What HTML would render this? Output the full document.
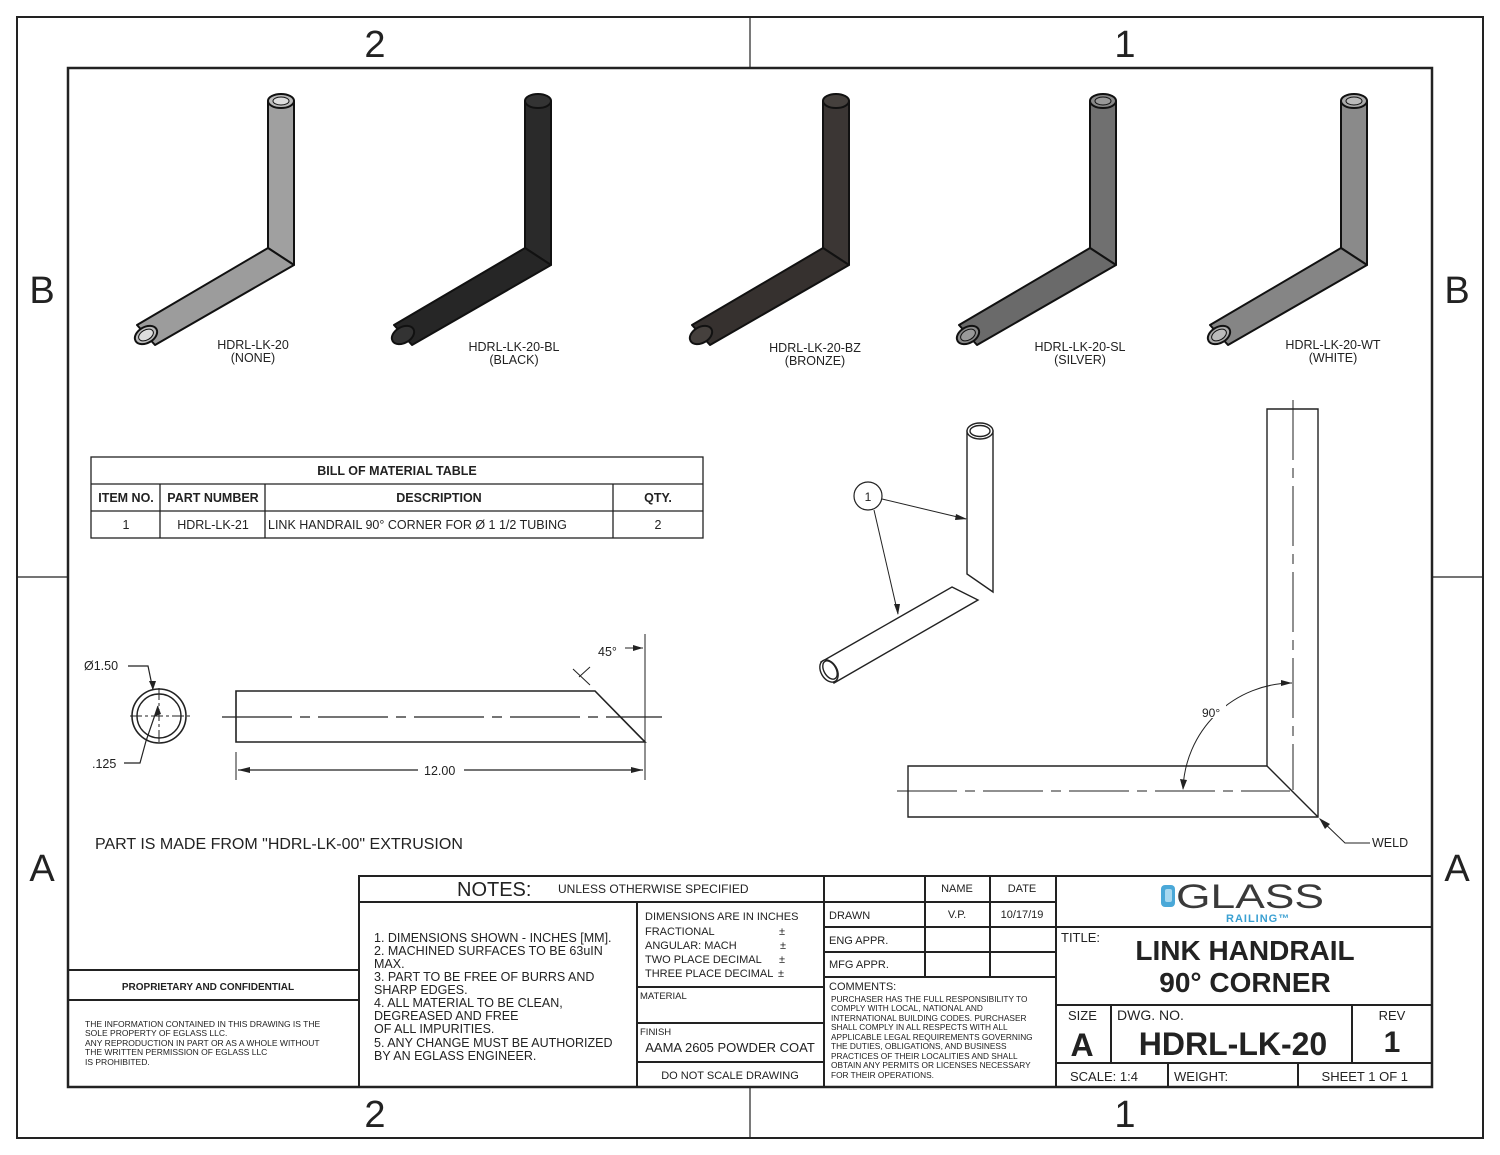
<!DOCTYPE html>
<html><head><meta charset="utf-8"><style>
html,body{margin:0;padding:0;background:#fff;}
svg{display:block;font-family:"Liberation Sans",sans-serif;}
</style></head><body>
<svg width="1500" height="1155" viewBox="0 0 1500 1155" xmlns="http://www.w3.org/2000/svg">
<rect x="0" y="0" width="1500" height="1155" fill="#fff"/>
<rect x="17" y="17" width="1466" height="1121" fill="none" stroke="#222" stroke-width="2"/>
<rect x="68" y="68" width="1364" height="1019" fill="none" stroke="#222" stroke-width="2.5"/>
<g stroke="#222" stroke-width="1.2">
<line x1="750" y1="17" x2="750" y2="68"/><line x1="750" y1="1087" x2="750" y2="1138"/>
<line x1="17" y1="577" x2="68" y2="577"/><line x1="1432" y1="577" x2="1483" y2="577"/>
</g>
<g font-size="38" fill="#222" text-anchor="middle" font-weight="300">
<text x="375" y="57">2</text><text x="1125" y="57">1</text>
<text x="375" y="1127">2</text><text x="1125" y="1127">1</text>
<text x="42" y="303">B</text><text x="1457" y="303">B</text>
<text x="42" y="881">A</text><text x="1457" y="881">A</text>
</g>

<g stroke="#111" stroke-width="2" stroke-linejoin="round">
<g fill="#a0a0a0">
<polygon points="268,101 294,101 294,265 268,248"/>
<polygon points="268,248 294,265 155,345 137,325" fill="#9c9c9c"/>
<ellipse cx="281" cy="101" rx="13" ry="7" fill="#bbb"/>
<ellipse cx="281" cy="101" rx="8" ry="4" fill="#ddd" stroke-width="1"/>
<ellipse cx="146" cy="335" rx="12" ry="8" transform="rotate(-30 146 335)" fill="#bbb"/>
<ellipse cx="146" cy="335" rx="8" ry="5" transform="rotate(-30 146 335)" fill="#ddd" stroke-width="1"/>
</g>
<g transform="translate(257,0)" fill="#2a2a2a">
<polygon points="268,101 294,101 294,265 268,248"/>
<polygon points="268,248 294,265 155,345 137,325" fill="#262626"/>
<ellipse cx="281" cy="101" rx="13" ry="7" fill="#333"/>
<ellipse cx="146" cy="335" rx="12" ry="8" transform="rotate(-30 146 335)" fill="#333"/>
</g>
<g transform="translate(555,0)" fill="#3b3634">
<polygon points="268,101 294,101 294,265 268,248"/>
<polygon points="268,248 294,265 155,345 137,325" fill="#36312f"/>
<ellipse cx="281" cy="101" rx="13" ry="7" fill="#45403d"/>
<ellipse cx="146" cy="335" rx="12" ry="8" transform="rotate(-30 146 335)" fill="#45403d"/>
</g>
<g transform="translate(822,0)" fill="#707070">
<polygon points="268,101 294,101 294,265 268,248"/>
<polygon points="268,248 294,265 155,345 137,325" fill="#6a6a6a"/>
<ellipse cx="281" cy="101" rx="13" ry="7" fill="#888"/>
<ellipse cx="281" cy="101" rx="8" ry="4" fill="#999" stroke-width="1"/>
<ellipse cx="146" cy="335" rx="12" ry="8" transform="rotate(-30 146 335)" fill="#888"/>
<ellipse cx="146" cy="335" rx="8" ry="5" transform="rotate(-30 146 335)" fill="#999" stroke-width="1"/>
</g>
<g transform="translate(1073,0)" fill="#8a8a8a">
<polygon points="268,101 294,101 294,265 268,248"/>
<polygon points="268,248 294,265 155,345 137,325" fill="#858585"/>
<ellipse cx="281" cy="101" rx="13" ry="7" fill="#aaa"/>
<ellipse cx="281" cy="101" rx="8" ry="4" fill="#bbb" stroke-width="1"/>
<ellipse cx="146" cy="335" rx="12" ry="8" transform="rotate(-30 146 335)" fill="#aaa"/>
<ellipse cx="146" cy="335" rx="8" ry="5" transform="rotate(-30 146 335)" fill="#bbb" stroke-width="1"/>
</g>
</g>
<g font-size="12.5" fill="#222" text-anchor="middle">
<text x="253" y="349">HDRL-LK-20</text><text x="253" y="362">(NONE)</text>
<text x="514" y="351">HDRL-LK-20-BL</text><text x="514" y="364">(BLACK)</text>
<text x="815" y="352">HDRL-LK-20-BZ</text><text x="815" y="365">(BRONZE)</text>
<text x="1080" y="351">HDRL-LK-20-SL</text><text x="1080" y="364">(SILVER)</text>
<text x="1333" y="349">HDRL-LK-20-WT</text><text x="1333" y="362">(WHITE)</text>
</g>

<g stroke="#222" stroke-width="1.3" fill="none">
<rect x="91" y="457" width="612" height="81"/>
<line x1="91" y1="484" x2="703" y2="484"/><line x1="91" y1="511" x2="703" y2="511"/>
<line x1="160" y1="484" x2="160" y2="538"/><line x1="265" y1="484" x2="265" y2="538"/><line x1="613" y1="484" x2="613" y2="538"/>
</g>
<g font-size="12.5" fill="#222" text-anchor="middle">
<text x="397" y="475" font-weight="bold">BILL OF MATERIAL TABLE</text>
<text x="126" y="502" font-weight="bold">ITEM NO.</text><text x="213" y="502" font-weight="bold">PART NUMBER</text>
<text x="439" y="502" font-weight="bold">DESCRIPTION</text><text x="658" y="502" font-weight="bold">QTY.</text>
<text x="126" y="529">1</text><text x="213" y="529">HDRL-LK-21</text>
<text x="268" y="529" text-anchor="start">LINK HANDRAIL 90° CORNER FOR Ø 1 1/2 TUBING</text><text x="658" y="529">2</text>
</g>

<g stroke="#222" fill="none">
<circle cx="159" cy="716" r="27" stroke-width="1.6"/>
<circle cx="159" cy="716" r="22" stroke-width="1.4"/>
<line x1="130" y1="716" x2="190" y2="716" stroke-width="1" stroke-dasharray="12,3,3,3"/>
<line x1="159" y1="688" x2="159" y2="744" stroke-width="1" stroke-dasharray="12,3,3,3"/>
<polyline points="128,666 148,666 153,690" stroke-width="1.2"/>
<polyline points="124,763 140,763 146,741 158,706" stroke-width="1.2"/>
<polygon points="236,691 595,691 645,742 236,742" stroke-width="1.6"/>
<line x1="222" y1="717" x2="662" y2="717" stroke-width="1.2" stroke-dasharray="70,8,10,8"/>
<line x1="236" y1="752" x2="236" y2="780" stroke-width="1"/>
<line x1="645" y1="634" x2="645" y2="780" stroke-width="1"/>
<line x1="238" y1="770" x2="418" y2="770" stroke-width="1.2"/>
<line x1="464" y1="770" x2="643" y2="770" stroke-width="1.2"/>
<line x1="573" y1="669" x2="590" y2="685" stroke-width="1"/>
<line x1="579" y1="677" x2="590" y2="667" stroke-width="1"/>
<line x1="625" y1="648" x2="643" y2="648" stroke-width="1"/>
</g>
<g fill="#222">
<polygon points="238,770 250,767 250,773"/><polygon points="643,770 631,767 631,773"/>
<polygon points="643,648 633,645 633,651"/>
<polygon points="153,690 149,681 156,681"/>
<polygon points="158,706 155,716 161,714" />
</g>
<g font-size="12.5" fill="#222">
<text x="84" y="670">Ø1.50</text><text x="92" y="768">.125</text>
<text x="424" y="775">12.00</text><text x="598" y="656">45°</text>
</g>
<text x="95" y="849" font-size="16" fill="#222">PART IS MADE FROM "HDRL-LK-00" EXTRUSION</text>

<g stroke="#222" fill="#fff" stroke-width="1.4">
<polygon points="967,431 993,431 993,592 967,574"/>
<ellipse cx="980" cy="431" rx="13" ry="8"/>
<ellipse cx="980" cy="431" rx="10" ry="5.5"/>
<polygon points="952,587 978,600 834,683 821,662"/>
<ellipse cx="829" cy="671" rx="8" ry="12" transform="rotate(-30 829 671)"/>
<ellipse cx="830" cy="670" rx="6" ry="10" transform="rotate(-30 830 670)"/>
<circle cx="868" cy="496" r="14" stroke-width="1.2"/>
</g>
<text x="868" y="501" font-size="12" text-anchor="middle" fill="#222">1</text>
<g stroke="#222" stroke-width="1" fill="none">
<line x1="882" y1="499" x2="966" y2="519"/>
<line x1="874" y1="510" x2="898" y2="614"/>
</g>
<g fill="#222"><polygon points="967,519 956,514 955,520"/><polygon points="898,615 894,604 900,604"/></g>

<g stroke="#222" fill="none" stroke-width="1.4">
<polyline points="1267,766 1267,409 1318,409 1318,817 908,817 908,766 1267,766"/>
<line x1="1267" y1="766" x2="1318" y2="817"/>
<line x1="1293" y1="400" x2="1293" y2="790" stroke-width="1" stroke-dasharray="60,8,10,8"/>
<line x1="897" y1="791" x2="1290" y2="791" stroke-width="1" stroke-dasharray="60,8,10,8"/>
<path d="M1183,789 A110,110 0 0 1 1292,683" stroke-width="1"/>
<polyline points="1320,819 1345,843 1370,843" stroke-width="1"/>
</g>
<g fill="#222">
<polygon points="1183,790 1180,779 1187,780"/><polygon points="1292,683 1281,680 1281,686"/>
<polygon points="1319,818 1330,824 1325,829"/>
</g>
<rect x="1200" y="704" width="26" height="14" fill="#fff"/>
<text x="1202" y="717" font-size="12" fill="#222">90°</text>
<text x="1372" y="847" font-size="12.5" fill="#222">WELD</text>

<g stroke="#222" fill="none" stroke-width="2">
<rect x="359" y="876" width="1073" height="211"/>
<line x1="68" y1="970" x2="359" y2="970"/><line x1="68" y1="1000" x2="359" y2="1000"/>
<line x1="359" y1="902" x2="824" y2="902"/>
<line x1="637" y1="902" x2="637" y2="1087"/>
<line x1="637" y1="987" x2="824" y2="987"/><line x1="637" y1="1023" x2="824" y2="1023"/><line x1="637" y1="1062" x2="824" y2="1062"/>
<line x1="824" y1="876" x2="824" y2="1087"/>
<line x1="824" y1="902" x2="1056" y2="902"/><line x1="824" y1="927" x2="1056" y2="927"/>
<line x1="824" y1="952" x2="1056" y2="952"/><line x1="824" y1="977" x2="1056" y2="977"/>
<line x1="925" y1="876" x2="925" y2="977"/><line x1="990" y1="876" x2="990" y2="977"/>
<line x1="1056" y1="876" x2="1056" y2="1087"/>
<line x1="1056" y1="927" x2="1432" y2="927"/><line x1="1056" y1="1005" x2="1432" y2="1005"/>
<line x1="1056" y1="1063" x2="1432" y2="1063"/>
<line x1="1111" y1="1005" x2="1111" y2="1063"/><line x1="1352" y1="1005" x2="1352" y2="1063"/>
<line x1="1168" y1="1063" x2="1168" y2="1087"/><line x1="1298" y1="1063" x2="1298" y2="1087"/>
</g>
<g fill="#222" font-size="11">
<text x="208" y="990" text-anchor="middle" font-weight="bold" font-size="10">PROPRIETARY AND CONFIDENTIAL</text>
<g font-size="8.5"><text x="85" y="1027">THE INFORMATION CONTAINED IN THIS DRAWING IS THE</text>
<text x="85" y="1036">SOLE PROPERTY OF EGLASS LLC.</text>
<text x="85" y="1046">ANY REPRODUCTION IN PART OR AS A WHOLE WITHOUT</text>
<text x="85" y="1055">THE WRITTEN PERMISSION OF EGLASS LLC</text>
<text x="85" y="1065">IS PROHIBITED.</text></g>
<text x="457" y="896" font-size="20">NOTES:</text>
<text x="558" y="893" font-size="12">UNLESS OTHERWISE SPECIFIED</text>
<g font-size="12.5"><text x="374" y="942">1. DIMENSIONS SHOWN - INCHES [MM].</text>
<text x="374" y="955">2. MACHINED SURFACES TO BE 63uIN</text>
<text x="374" y="968">MAX.</text>
<text x="374" y="981">3. PART TO BE FREE OF BURRS AND</text>
<text x="374" y="994">SHARP EDGES.</text>
<text x="374" y="1007">4. ALL MATERIAL TO BE CLEAN,</text>
<text x="374" y="1020">DEGREASED AND FREE</text>
<text x="374" y="1033">OF ALL IMPURITIES.</text>
<text x="374" y="1047">5. ANY CHANGE MUST BE AUTHORIZED</text>
<text x="374" y="1060">BY AN EGLASS ENGINEER.</text></g>
<g font-size="11"><text x="645" y="920">DIMENSIONS ARE IN INCHES</text>
<text x="645" y="935">FRACTIONAL</text><text x="779" y="935">±</text>
<text x="645" y="949">ANGULAR: MACH</text><text x="780" y="949">±</text>
<text x="645" y="963">TWO PLACE DECIMAL</text><text x="779" y="963">±</text>
<text x="645" y="977">THREE PLACE DECIMAL</text><text x="778" y="977">±</text></g>
<text x="640" y="999" font-size="9.5">MATERIAL</text>
<text x="640" y="1035" font-size="9.5">FINISH</text>
<text x="730" y="1052" font-size="13" text-anchor="middle">AAMA 2605 POWDER COAT</text>
<text x="730" y="1079" font-size="11" text-anchor="middle">DO NOT SCALE DRAWING</text>
<text x="957" y="892" text-anchor="middle">NAME</text><text x="1022" y="892" text-anchor="middle">DATE</text>
<text x="829" y="919">DRAWN</text><text x="957" y="918" text-anchor="middle">V.P.</text><text x="1022" y="918" text-anchor="middle">10/17/19</text>
<text x="829" y="944">ENG APPR.</text><text x="829" y="968">MFG APPR.</text>
<text x="829" y="990">COMMENTS:</text>
<g font-size="8.3"><text x="831" y="1002">PURCHASER HAS THE FULL RESPONSIBILITY TO</text>
<text x="831" y="1011">COMPLY WITH LOCAL, NATIONAL AND</text>
<text x="831" y="1021">INTERNATIONAL BUILDING CODES. PURCHASER</text>
<text x="831" y="1030">SHALL COMPLY IN ALL RESPECTS WITH ALL</text>
<text x="831" y="1040">APPLICABLE LEGAL REQUIREMENTS GOVERNING</text>
<text x="831" y="1049">THE DUTIES, OBLIGATIONS, AND BUSINESS</text>
<text x="831" y="1059">PRACTICES OF THEIR LOCALITIES AND SHALL</text>
<text x="831" y="1068">OBTAIN ANY PERMITS OR LICENSES NECESSARY</text>
<text x="831" y="1078">FOR THEIR OPERATIONS.</text></g>
<text x="1061" y="942" font-size="13">TITLE:</text>
<text x="1245" y="960" font-size="28" font-weight="bold" text-anchor="middle">LINK HANDRAIL</text>
<text x="1245" y="992" font-size="28" font-weight="bold" text-anchor="middle">90° CORNER</text>
<text x="1068" y="1020" font-size="13">SIZE</text>
<text x="1082" y="1056" font-size="32" font-weight="bold" text-anchor="middle">A</text>
<text x="1117" y="1020" font-size="14">DWG.  NO.</text>
<text x="1233" y="1055" font-size="32" font-weight="bold" text-anchor="middle">HDRL-LK-20</text>
<text x="1392" y="1020" font-size="13" text-anchor="middle">REV</text>
<text x="1392" y="1052" font-size="30" font-weight="bold" text-anchor="middle">1</text>
<text x="1070" y="1081" font-size="13">SCALE: 1:4</text>
<text x="1174" y="1081" font-size="13">WEIGHT:</text>
<text x="1408" y="1081" font-size="13" text-anchor="end">SHEET 1 OF 1</text>
</g>
<rect x="1161" y="885" width="14" height="22" rx="4" fill="#4aa8d8"/>
<rect x="1165" y="889" width="7" height="13" rx="2" fill="#a7d8f0"/>
<text x="1176" y="908" font-size="34" fill="#3a3a3a" font-weight="300" textLength="148" lengthAdjust="spacingAndGlyphs">GLASS</text>
<text x="1226" y="922" font-size="11" fill="#3aa0d2" font-weight="bold" letter-spacing="1">RAILING™</text>
</svg>
</body></html>
